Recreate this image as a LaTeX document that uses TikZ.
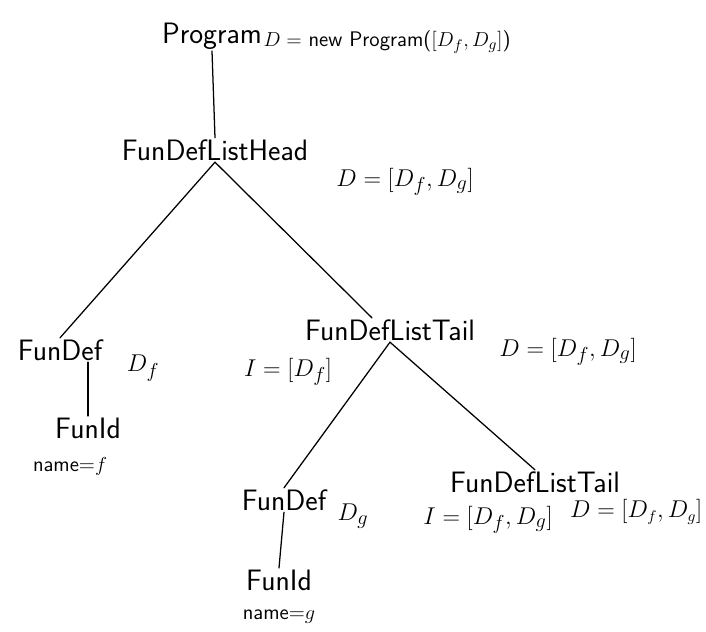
\documentclass[tikz,border=0pt]{standalone}
\usepackage{tikz}
\usetikzlibrary{positioning}

\begin{document}
\begin{tikzpicture}[
	x=0.025cm, y=-0.025cm,
	every node/.style={font=\sffamily\fontsize{21}{25}\selectfont, inner sep=1pt},
	attr/.style={font=\fontsize{19}{23}\selectfont},
	small/.style={font=\sffamily\fontsize{15}{18}\selectfont},
	edge/.style={line width=0.9pt, line cap=round}
	]
	
	\useasboundingbox (0,0) rectangle (706,632);
	
	% root
	\node (prog) at (212,36) {Program};
	\node[small, anchor=west] (progD) at (262,42) {$D=$ new Program($[D_f,D_g]$)};
	
	\node (head) at (215,150) {FunDefListHead};
	\node[attr] (headD) at (405,182) {$D=[D_f,D_g]$};
	
	% left branch
	\node (fdf) at (60,350) {FunDef};
	\node[attr] (fdfD) at (143,368) {$D_f$};
	\node (idf) at (88,428) {FunId};
	\node[small] (namef) at (70,466) {name=$f$};
	
	% right branch
	\node (tail) at (390,330) {FunDefListTail};
	\node[attr] (tailI) at (288,372) {$I=[D_f]$};
	\node[attr] (tailD) at (568,352) {$D=[D_f,D_g]$};
	
	\node (fdg) at (284,500) {FunDef};
	\node[attr] (fdgD) at (353,516) {$D_g$};
	\node (idg) at (279,580) {FunId};
	\node[small] (nameg) at (279,617) {name=$g$};
	
	\node (tail2) at (535,482) {FunDefListTail};
	\node[attr] (tail2I) at (488,520) {$I=[D_f,D_g]$};
	\node[attr, font=\fontsize{16}{19}\selectfont, anchor=east] (tail2D) at (704,512) {$D=[D_f,D_g]$};
	
	% edges
	\draw[edge] (prog.south) -- (head.north);
	\draw[edge] (head.south) -- (fdf.north);
	\draw[edge] (head.south) -- (tail.146);
	\draw[edge] (idf.north |- fdf.south) -- (idf.north);
	\draw[edge] (tail.south) -- (fdg.north);
	\draw[edge] (tail.south) -- (tail2.north);
	\draw[edge] (fdg.south) -- (idg.north);
	
\end{tikzpicture}
\end{document}
